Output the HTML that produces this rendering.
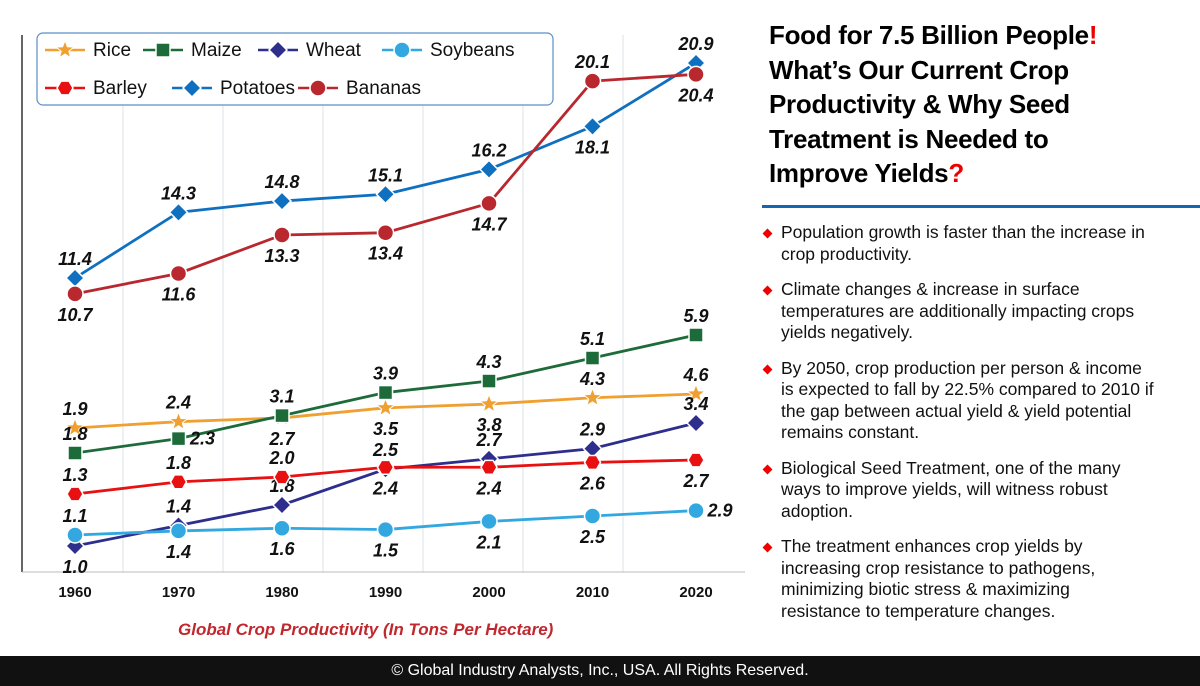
<!DOCTYPE html>
<html><head><meta charset="utf-8"><style>
body{margin:0;width:1200px;height:686px;background:#fff;overflow:hidden;font-family:"Liberation Sans",sans-serif;position:relative}
#title{position:absolute;left:769px;top:18px;font-size:26px;font-weight:bold;line-height:34.5px;color:#000;letter-spacing:-0.3px}
#title .q{color:#e00}
#rule{position:absolute;left:762px;top:205px;width:438px;height:3px;background:#1565b0}
ul{position:absolute;left:762px;top:222px;margin:0;padding:0;list-style:none;width:392px}
li{position:relative;padding-left:19px;font-size:17.5px;line-height:21.5px;margin-bottom:14px;color:#111}
li:before{content:"";position:absolute;left:2px;top:8px;width:7px;height:7px;background:#e00;transform:rotate(45deg)}
#footer{position:absolute;left:0;top:656px;width:1200px;height:30px;background:#111;color:#fff;font-size:16px;text-align:center;line-height:30px}
#caption{position:absolute;left:178px;top:620px;color:#c0282e;font-weight:bold;font-style:italic;font-size:17px}
svg{position:absolute;left:0;top:0}
</style></head><body>
<svg id="chart" width="760" height="650"></svg>
<div id="caption">Global Crop Productivity (In Tons Per Hectare)</div>
<div id="title">Food for 7.5 Billion People<span class="q">!</span><br>What’s Our Current Crop<br>Productivity &amp; Why Seed<br>Treatment is Needed to<br>Improve Yields<span class="q">?</span></div>
<div id="rule"></div>
<ul>
<li>Population growth is faster than the increase in crop productivity.</li>
<li>Climate changes &amp; increase in surface temperatures are additionally impacting crops yields negatively.</li>
<li>By 2050, crop production per person &amp; income is expected to fall by 22.5% compared to 2010 if the gap between actual yield &amp; yield potential remains constant.</li>
<li>Biological Seed Treatment, one of the many ways to improve yields, will witness robust adoption.</li>
<li>The treatment enhances crop yields by increasing crop resistance to pathogens, minimizing biotic stress &amp; maximizing resistance to temperature changes.</li>
</ul>
<div id="footer">© Global Industry Analysts, Inc., USA. All Rights Reserved.</div>
<script>
const years=[1960,1970,1980,1990,2000,2010,2020];
const rice=[1.9,2.4,2.7,3.5,3.8,4.3,4.6];
const maize=[1.8,2.3,3.1,3.9,4.3,5.1,5.9];
const wheat=[1.0,1.4,1.8,2.5,2.7,2.9,3.4];
const soybeans=[1.1,1.4,1.6,1.5,2.1,2.5,2.9];
const barley=[1.3,1.8,2.0,2.4,2.4,2.6,2.7];
const potatoes=[11.4,14.3,14.8,15.1,16.2,18.1,20.9];
const bananas=[10.7,11.6,13.3,13.4,14.7,20.1,20.4];
const riceLbl=['a','a','b','b','b','a','a'];
const maizeLbl=['a','r','a','a','a','a','a'];
const wheatLbl=['b','a','a','a','a','a','a'];
const soyLbl=['a','b','b','b','b','b','r'];
const barleyLbl=['a','a','a','b','b','b','b'];
const potLbl=['a','a','a','a','a','b','a'];
const banLbl=['b','b','b','b','b','a','b'];
const NS='http://www.w3.org/2000/svg';
const svg=document.getElementById('chart');
function mk(t,a,p){const e=document.createElementNS(NS,t);for(const k in a)e.setAttribute(k,a[k]);(p||svg).appendChild(e);return e;}
const x=y=>75+(y-1960)*10.35;
function lin(v0,p0,v1,p1){return v=>p0+(v-v0)*(p1-p0)/(v1-v0);}
const topScale=lin(11.4,278,20.9,63);
for(let i=0;i<6;i++){const g=mk('line',{x1:123+i*100,x2:123+i*100,y1:35,y2:572,stroke:'#dde3ea','stroke-width':1});}
const ax=mk('line',{x1:22,x2:22,y1:35,y2:572,stroke:'#666','stroke-width':2});
const bx=mk('line',{x1:22,x2:745,y1:572,y2:572,stroke:'#bbb','stroke-width':1});
years.forEach(y=>{const t=mk('text',{x:x(y),y:597,'text-anchor':'middle','font-size':15,'font-weight':'bold',fill:'#111'});t.textContent=y;});
function marker(g,type,cx,cy,col){
 let e;
 if(type==='star'){let p=[];for(let i=0;i<10;i++){const r=i%2?4:9.5,a=-Math.PI/2+i*Math.PI/5;p.push((cx+r*Math.cos(a)).toFixed(1)+','+(cy+r*Math.sin(a)).toFixed(1));}e=mk('polygon',{points:p.join(' '),fill:col,stroke:'#fff','stroke-width':1},g);}
 else if(type==='square')e=mk('rect',{x:cx-7,y:cy-7,width:14,height:14,fill:col,stroke:'#fff','stroke-width':1.5},g);
 else if(type==='diamond')e=mk('polygon',{points:`${cx},${cy-9} ${cx+9},${cy} ${cx},${cy+9} ${cx-9},${cy}`,fill:col,stroke:'#fff','stroke-width':1.5},g);
 else if(type==='hex'){let p=[];for(let i=0;i<6;i++){const a=i*Math.PI/3;p.push((cx+8*Math.cos(a)).toFixed(1)+','+(cy+8*Math.sin(a)).toFixed(1));}e=mk('polygon',{points:p.join(' '),fill:col,stroke:'#fff','stroke-width':1.5},g);}
 else e=mk('circle',{cx:cx,cy:cy,r:8,fill:col,stroke:'#fff','stroke-width':1.5},g);
 return e;
}
const series=[
 {n:'rice',v:rice,l:riceLbl,c:'#f0a030',m:'star',s:lin(1.9,428,4.6,394)},
 {n:'maize',v:maize,l:maizeLbl,c:'#1e6b3a',m:'square',s:lin(1.8,453,5.9,335)},
 {n:'wheat',v:wheat,l:wheatLbl,c:'#2e2e8c',m:'diamond',s:lin(1.0,546,3.4,423)},
 {n:'soybeans',v:soybeans,l:soyLbl,c:'#33a8e0',m:'circle',s:lin(1.1,535,2.5,516)},
 {n:'barley',v:barley,l:barleyLbl,c:'#e81010',m:'hex',s:lin(1.3,494,2.7,460)},
 {n:'potatoes',v:potatoes,l:potLbl,c:'#1070c0',m:'diamond',s:topScale},
 {n:'bananas',v:bananas,l:banLbl,c:'#b8282e',m:'circle',s:topScale}
];
series.forEach(S=>{
 const g=mk('g',{});
 const pts=S.v.map((v,i)=>[x(years[i]),S.s(v)]);
 const ln=mk('polyline',{points:pts.map(p=>p.join(',')).join(' '),fill:'none',stroke:S.c,'stroke-width':2.8},g);
 
 pts.forEach((p,i)=>{
  const m=marker(g,S.m,p[0],p[1],S.c);
  
  
  const pos=S.l[i];
  const tx=pos==='r'?p[0]+24:p[0], ty=pos==='a'?p[1]-13:pos==='b'?p[1]+27:p[1]+6;
  const t=mk('text',{x:tx,y:ty,'text-anchor':'middle','font-size':18,'font-weight':'bold','font-style':'italic',fill:'#111'},g);
  t.textContent=S.v[i].toFixed(1);
  
  
 });
});
const lg=mk('g',{});
mk('rect',{x:37,y:33,width:516,height:72,rx:6,fill:'#fff',stroke:'#5b8fc7','stroke-width':1.2},lg);
const legPos=[[45,50],[143,50],[258,50],[382,50],[45,88],[172,88],[298,88]];
series.forEach((S,i)=>{
 const [lx,ly]=legPos[i];
 const e=mk('g',{},lg);
 mk('line',{x1:lx,x2:lx+40,y1:ly,y2:ly,stroke:S.c,'stroke-width':2.5},e);
 marker(e,S.m,lx+20,ly,S.c);
 const t=mk('text',{x:lx+48,y:ly+6,'font-size':19,fill:'#111'},e);t.textContent=S.n[0].toUpperCase()+S.n.slice(1);
});
</script>
</body></html>
